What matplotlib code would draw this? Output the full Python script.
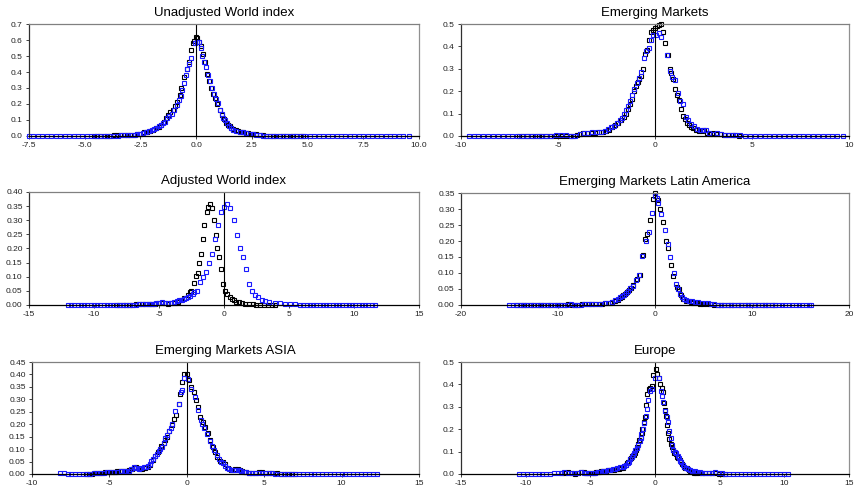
import numpy as np
import matplotlib
matplotlib.use('Agg')
import matplotlib.pyplot as plt
from matplotlib.ticker import FormatStrFormatter

plt.rcParams['font.family'] = ['Liberation Sans', 'DejaVu Sans']
plt.rcParams['axes.unicode_minus'] = False

# density points, (x, y) pairs
# black = empirical, blue = fitted
uw_black = [(-4.6,0),(-4.45,0),(-4.3,0),(-4.15,0),(-4.0,0),(-3.85,0.002),(-3.7,0.004),(-3.55,0.006),(-3.4,0.008),
            (-3.25,0.009),(-3.1,0.009),(-2.95,0.007),(-2.8,0.006),(-2.65,0.01),(-2.5,0.015),(-2.35,0.022),(-2.2,0.028),
            (-2.05,0.033),(-1.93,0.04),(-1.78,0.05),(-1.65,0.058),(-1.56,0.07),(-1.44,0.09),(-1.36,0.11),(-1.25,0.13),
            (-1.15,0.15),(-1.03,0.165),(-0.93,0.19),(-0.84,0.215),(-0.73,0.255),(-0.66,0.30),(-0.54,0.37),(-0.43,0.42),
            (-0.34,0.465),(-0.24,0.535),(-0.16,0.58),(-0.08,0.595),(0.0,0.62),(0.06,0.61),(0.13,0.585),(0.21,0.56),
            (0.31,0.51),(0.39,0.46),(0.49,0.39),(0.58,0.345),(0.69,0.30),(0.76,0.265),(0.84,0.24),(0.95,0.2),(1.06,0.16),
            (1.18,0.13),(1.26,0.105),(1.33,0.08),(1.42,0.07),(1.51,0.06),(1.58,0.052),(1.66,0.045),(1.78,0.038),
            (1.89,0.033),(2.0,0.027),(2.1,0.023),(2.22,0.019),(2.34,0.016),(2.45,0.014),(2.56,0.012),(2.7,0.01),
            (2.85,0.008),(3.0,0.005),(3.15,0.003),(3.3,0.002),(3.45,0.001),(3.6,0),(3.75,0),(3.9,0),(4.05,0),(4.2,0),
            (4.35,0),(4.5,0),(4.65,0),(4.8,0)]
uw_blue = [(-7.5,0),(-7.3,0),(-7.1,0),(-6.9,0),(-6.7,0),(-6.5,0),(-6.3,0),(-6.1,0),(-5.9,0),(-5.7,0),(-5.5,0),(-5.3,0),
           (-5.1,0),(-4.9,0),(-4.7,0),(-4.5,0),(-4.3,0),(-4.1,0),(-3.9,0),(-3.7,0),(-3.5,0.002),(-3.35,0.005),
           (-3.2,0.007),(-3.05,0.008),(-2.9,0.006),(-2.75,0.008),(-2.65,0.01),(-2.53,0.013),(-2.38,0.018),(-2.23,0.025),
           (-2.1,0.03),(-2.0,0.035),(-1.88,0.043),(-1.78,0.05),(-1.68,0.06),(-1.59,0.07),(-1.5,0.08),(-1.41,0.09),
           (-1.3,0.11),(-1.2,0.125),(-1.08,0.14),(-0.98,0.165),(-0.88,0.195),(-0.79,0.225),(-0.7,0.25),(-0.62,0.29),
           (-0.55,0.33),(-0.45,0.38),(-0.39,0.42),(-0.3,0.45),(-0.21,0.49),(-0.06,0.58),(0.05,0.59),(0.12,0.59),
           (0.2,0.55),(0.28,0.50),(0.37,0.46),(0.46,0.43),(0.54,0.38),(0.61,0.345),(0.7,0.3),(0.79,0.26),(0.89,0.23),
           (0.99,0.205),(1.07,0.16),(1.14,0.135),(1.22,0.115),(1.29,0.10),(1.38,0.08),(1.48,0.065),(1.57,0.05),
           (1.66,0.04),(1.8,0.033),(1.96,0.027),(2.1,0.022),(2.26,0.017),(2.4,0.013),(2.56,0.01),(2.7,0.008),
           (2.85,0.005),(3.0,0.003),(3.15,0.002),(3.3,0),(3.5,0),(3.7,0),(3.9,0),(4.1,0),(4.3,0),(4.5,0),(4.7,0),
           (4.9,0),(5.1,0),(5.3,0),(5.5,0),(5.7,0),(5.9,0),(6.1,0),(6.3,0),(6.5,0),(6.7,0),(6.9,0),(7.1,0),(7.3,0),
           (7.5,0),(7.7,0),(7.9,0),(8.1,0),(8.3,0),(8.5,0),(8.7,0),(8.9,0),(9.1,0),(9.3,0),(9.55,0)]

em_black = [(-7.0,0),(-6.8,0),(-6.6,0),(-6.4,0),(-6.2,0),(-6.0,0),(-5.8,0),(-5.6,0.001),(-5.4,0.002),(-5.2,0.002),
            (-5.0,0.002),(-4.8,0.002),(-4.6,0.001),(-4.4,0.001),(-4.2,0.001),(-4.0,0.003),(-3.85,0.008),(-3.7,0.012),
            (-3.5,0.015),(-3.3,0.013),(-3.1,0.015),(-2.9,0.017),(-2.7,0.02),(-2.5,0.021),(-2.35,0.028),(-2.2,0.04),
            (-2.05,0.05),(-1.9,0.058),(-1.75,0.07),(-1.6,0.085),(-1.5,0.1),(-1.4,0.12),(-1.3,0.145),(-1.2,0.165),
            (-1.1,0.2),(-1.0,0.225),(-0.9,0.24),(-0.8,0.255),(-0.7,0.27),(-0.6,0.3),(-0.5,0.365),(-0.4,0.385),
            (-0.3,0.43),(-0.2,0.465),(-0.1,0.475),(0.0,0.48),(0.1,0.49),(0.2,0.495),(0.3,0.5),(0.4,0.465),(0.5,0.415),
            (0.65,0.36),(0.75,0.3),(0.85,0.28),(0.95,0.255),(1.05,0.21),(1.15,0.185),(1.25,0.16),(1.35,0.12),
            (1.45,0.09),(1.55,0.075),(1.65,0.06),(1.75,0.05),(1.85,0.04),(1.95,0.035),(2.1,0.027),(2.25,0.022),
            (2.4,0.022),(2.55,0.026),(2.7,0.015),(2.85,0.01),(3.0,0.012),(3.15,0.01),(3.35,0.007),(3.55,0.004),
            (3.75,0.003),(3.95,0.003),(4.15,0.005),(4.35,0.002)]
em_blue = [(-9.6,0),(-9.35,0),(-9.1,0),(-8.85,0),(-8.6,0),(-8.35,0),(-8.1,0),(-7.85,0),(-7.6,0),(-7.35,0),(-7.1,0),
           (-6.85,0),(-6.6,0),(-6.35,0),(-6.1,0),(-5.85,0),(-5.6,0),(-5.35,0),(-5.1,0.003),(-4.85,0.004),(-4.6,0.003),
           (-4.35,0.002),(-4.1,0.002),(-3.85,0.008),(-3.65,0.013),(-3.45,0.015),(-3.25,0.016),(-3.0,0.018),(-2.8,0.02),
           (-2.6,0.022),(-2.4,0.03),(-2.25,0.04),(-2.1,0.045),(-1.95,0.06),(-1.8,0.07),(-1.7,0.08),(-1.6,0.1),
           (-1.5,0.115),(-1.4,0.135),(-1.3,0.155),(-1.2,0.185),(-1.1,0.21),(-0.95,0.235),(-0.8,0.26),(-0.7,0.285),
           (-0.55,0.35),(-0.45,0.38),(-0.32,0.395),(-0.2,0.43),(-0.1,0.45),(0.05,0.45),(0.2,0.46),(0.33,0.44),
           (0.6,0.36),(0.8,0.29),(0.9,0.265),(1.05,0.25),(1.2,0.19),(1.3,0.155),(1.45,0.145),(1.6,0.085),(1.72,0.07),
           (1.85,0.055),(2.0,0.045),(2.15,0.03),(2.3,0.025),(2.5,0.025),(2.65,0.028),(2.8,0.015),(3.0,0.01),
           (3.2,0.012),(3.4,0.008),(3.6,0.005),(3.8,0.004),(4.0,0.004),(4.2,0.006),(4.4,0.003),(4.65,0),(4.9,0),
           (5.15,0),(5.4,0),(5.65,0),(5.9,0),(6.15,0),(6.4,0),(6.65,0),(6.9,0),(7.15,0),(7.4,0),(7.65,0),(7.9,0),
           (8.15,0),(8.4,0),(8.65,0),(8.9,0),(9.15,0),(9.4,0),(9.7,0)]

aw_black = [(-8.3,0),(-8.05,0),(-7.8,0),(-7.55,0),(-7.3,0),(-7.05,0.001),(-6.8,0.003),(-6.55,0.003),(-6.3,0.002),
            (-6.05,0.002),(-5.8,0.003),(-5.55,0.004),(-5.3,0.004),(-5.05,0.006),(-4.8,0.007),(-4.55,0.006),
            (-4.3,0.005),(-4.05,0.006),(-3.8,0.008),(-3.56,0.012),(-3.3,0.017),(-3.04,0.025),(-2.8,0.035),
            (-2.65,0.045),(-2.5,0.05),(-2.32,0.078),(-2.14,0.104),(-2.01,0.113),(-1.91,0.148),(-1.75,0.18),
            (-1.62,0.235),(-1.5,0.284),(-1.34,0.33),(-1.24,0.347),(-1.1,0.359),(-0.93,0.343),(-0.77,0.302),
            (-0.64,0.249),(-0.52,0.2),(-0.36,0.17),(-0.23,0.127),(-0.05,0.075),(0.1,0.05),(0.26,0.039),(0.44,0.03),
            (0.6,0.022),(0.78,0.016),(0.95,0.012),(1.15,0.009),(1.4,0.006),(1.65,0.004),(1.9,0.003),(2.2,0.002),
            (2.5,0.001),(2.8,0),(3.1,0),(3.4,0),(3.7,0),(3.95,0)]
aw_blue = [(-12.0,0),(-11.75,0),(-11.5,0),(-11.25,0),(-11.0,0),(-10.75,0),(-10.5,0),(-10.25,0),(-10.0,0),(-9.75,0),
           (-9.5,0),(-9.25,0),(-9.0,0),(-8.75,0),(-8.5,0),(-8.25,0),(-8.0,0),(-7.75,0),(-7.5,0),(-7.25,0),(-7.0,0),
           (-6.75,0.001),(-6.5,0.002),(-6.25,0.002),(-6.0,0.002),(-5.8,0.003),(-5.6,0.005),(-5.4,0.005),(-5.2,0.006),
           (-5.0,0.008),(-4.8,0.01),(-4.55,0.007),(-4.3,0.006),(-4.05,0.008),(-3.82,0.01),(-3.6,0.013),(-3.43,0.016),
           (-3.25,0.019),(-3.1,0.022),(-2.92,0.025),(-2.75,0.028),(-2.58,0.033),(-2.42,0.038),(-2.27,0.045),
           (-2.11,0.05),(-1.88,0.08),(-1.65,0.1),(-1.42,0.115),(-1.18,0.147),(-0.95,0.18),(-0.67,0.235),(-0.46,0.284),
           (-0.26,0.329),(0.0,0.346),(0.26,0.357),(0.49,0.343),(0.75,0.302),(0.98,0.249),(1.21,0.2),(1.47,0.17),
           (1.67,0.129),(1.93,0.075),(2.17,0.05),(2.37,0.037),(2.6,0.027),(2.89,0.019),(3.14,0.013),(3.5,0.01),
           (3.9,0.008),(4.3,0.006),(4.7,0.004),(5.1,0.003),(5.5,0.002),(5.85,0),(6.1,0),(6.35,0),(6.6,0),(6.85,0),
           (7.1,0),(7.35,0),(7.6,0),(7.85,0),(8.1,0),(8.35,0),(8.6,0),(8.85,0),(9.1,0),(9.35,0),(9.6,0),(9.85,0),
           (10.1,0),(10.35,0),(10.6,0),(10.85,0),(11.1,0),(11.35,0),(11.65,0)]

la_black = [(-14.2,0),(-13.85,0),(-13.5,0),(-13.15,0),(-12.8,0),(-12.45,0),(-12.1,0),(-11.75,0),(-11.4,0),(-11.05,0),
            (-10.7,0),(-10.35,0),(-10.0,0),(-9.65,0),(-9.3,0.001),(-8.95,0.002),(-8.6,0.001),(-8.25,0.001),(-7.9,0.001),
            (-7.55,0.002),(-7.2,0.002),(-6.85,0.003),(-6.5,0.003),(-6.15,0.004),(-5.8,0.004),(-5.45,0.004),
            (-5.1,0.005),(-4.66,0.006),(-4.4,0.008),(-4.1,0.011),(-3.85,0.016),(-3.62,0.022),(-3.45,0.026),
            (-3.28,0.03),(-3.1,0.034),(-2.93,0.04),(-2.72,0.046),(-2.52,0.052),(-2.24,0.063),(-1.9,0.081),
            (-1.55,0.095),(-1.28,0.155),(-1.03,0.205),(-0.86,0.223),(-0.52,0.267),(-0.24,0.33),(0.03,0.35),
            (0.34,0.327),(0.52,0.30),(0.8,0.26),(1.1,0.2),(1.34,0.177),(1.62,0.125),(1.9,0.09),(2.24,0.056),
            (2.52,0.049),(2.7,0.03),(2.93,0.02),(3.2,0.014),(3.45,0.011),(3.7,0.008),(3.96,0.006),(4.3,0.005),
            (4.65,0.004),(5.0,0.004),(5.35,0.003),(5.7,0.003),(6.1,0.001),(6.45,0),(6.8,0),(7.15,0),(7.5,0),
            (7.85,0),(8.2,0),(8.55,0),(8.9,0),(9.25,0),(9.6,0),(9.95,0),(10.3,0),(10.65,0),(11.0,0),(11.35,0),
            (11.7,0),(12.05,0),(12.4,0)]
la_blue = [(-15.0,0),(-14.65,0),(-14.3,0),(-13.95,0),(-13.6,0),(-13.25,0),(-12.9,0),(-12.55,0),(-12.2,0),(-11.85,0),
           (-11.5,0),(-11.15,0),(-10.8,0),(-10.45,0),(-10.1,0),(-9.75,0),(-9.4,0),(-9.05,0.001),(-8.7,0.002),
           (-8.35,0.001),(-8.0,0.001),(-7.65,0.001),(-7.3,0.002),(-6.95,0.002),(-6.6,0.002),(-6.2,0.003),
           (-5.7,0.003),(-5.17,0.006),(-4.8,0.007),(-4.48,0.008),(-4.07,0.017),(-3.85,0.02),(-3.62,0.024),
           (-3.4,0.028),(-3.17,0.032),(-2.95,0.038),(-2.76,0.043),(-2.55,0.052),(-2.31,0.06),(-1.97,0.077),
           (-1.66,0.093),(-1.31,0.154),(-0.97,0.2),(-0.62,0.227),(-0.34,0.287),(-0.03,0.34),(0.17,0.334),
           (0.3,0.319),(0.62,0.285),(1.0,0.235),(1.3,0.19),(1.55,0.151),(1.97,0.1),(2.17,0.065),(2.35,0.05),
           (2.59,0.035),(2.79,0.025),(3.0,0.02),(3.2,0.017),(3.5,0.013),(3.8,0.011),(4.15,0.009),(4.48,0.008),
           (4.85,0.007),(5.17,0.006),(5.5,0.005),(5.8,0.004),(6.1,0.002),(6.45,0),(6.8,0),(7.15,0),(7.5,0),(7.85,0),
           (8.2,0),(8.55,0),(8.9,0),(9.25,0),(9.6,0),(9.95,0),(10.3,0),(10.65,0),(11.0,0),(11.35,0),(11.7,0),
           (12.05,0),(12.4,0),(12.75,0),(13.1,0),(13.45,0),(13.8,0),(14.15,0),(14.5,0),(14.85,0),(15.2,0),
           (15.55,0),(15.85,0),(16.1,0)]

as_black = [(-6.5,0.001),(-6.3,0.001),(-6.1,0.001),(-5.9,0.003),(-5.69,0.004),(-5.48,0.005),(-5.26,0.007),
            (-5.05,0.008),(-4.83,0.009),(-4.65,0.01),(-4.5,0.012),(-4.34,0.012),(-4.18,0.012),(-4.02,0.012),
            (-3.86,0.013),(-3.7,0.016),(-3.53,0.02),(-3.4,0.024),(-3.3,0.027),(-3.15,0.023),(-3.0,0.02),(-2.89,0.02),
            (-2.7,0.025),(-2.5,0.029),(-2.35,0.036),(-2.2,0.056),(-2.03,0.073),(-1.85,0.089),(-1.66,0.112),
            (-1.49,0.123),(-1.38,0.135),(-1.27,0.15),(-1.12,0.172),(-0.95,0.196),(-0.82,0.22),(-0.69,0.239),
            (-0.52,0.28),(-0.41,0.323),(-0.3,0.37),(-0.15,0.403),(0.02,0.4),(0.13,0.377),(0.3,0.35),(0.45,0.33),
            (0.6,0.296),(0.73,0.27),(0.88,0.23),(1.03,0.21),(1.2,0.19),(1.38,0.163),(1.53,0.136),(1.68,0.109),
            (1.81,0.089),(1.96,0.069),(2.13,0.052),(2.33,0.047),(2.5,0.039),(2.67,0.025),(2.87,0.016),(3.1,0.019),
            (3.32,0.02),(3.45,0.016),(3.58,0.012),(3.84,0.007),(4.05,0.005),(4.22,0.004),(4.45,0.005),(4.66,0.007),
            (4.87,0.006),(5.09,0.005),(5.3,0.005),(5.52,0.004),(5.8,0.002),(6.06,0.001),(6.33,0.001),(6.6,0.001),
            (6.8,0),(7.0,0)]
as_blue = [(-8.17,0.002),(-7.95,0.002),(-7.7,0.001),(-7.45,0.001),(-7.2,0.001),(-6.95,0.001),(-6.7,0.001),
           (-6.45,0.001),(-6.23,0.001),(-6.0,0.002),(-5.8,0.003),(-5.58,0.004),(-5.37,0.005),(-5.15,0.006),
           (-4.94,0.007),(-4.72,0.008),(-4.5,0.009),(-4.28,0.011),(-4.07,0.012),(-3.9,0.012),(-3.75,0.013),
           (-3.6,0.02),(-3.43,0.027),(-3.25,0.026),(-3.1,0.022),(-2.95,0.024),(-2.78,0.027),(-2.64,0.03),
           (-2.5,0.033),(-2.4,0.04),(-2.28,0.052),(-2.18,0.06),(-2.07,0.072),(-1.95,0.082),(-1.81,0.092),
           (-1.7,0.1),(-1.6,0.109),(-1.5,0.125),(-1.38,0.143),(-1.27,0.155),(-1.16,0.172),(-1.05,0.185),
           (-0.95,0.2),(-0.73,0.254),(-0.52,0.283),(-0.4,0.33),(-0.3,0.336),(-0.17,0.386),(0.09,0.383),
           (0.28,0.343),(0.52,0.31),(0.73,0.256),(0.91,0.216),(1.0,0.2),(1.1,0.183),(1.31,0.159),(1.53,0.132),
           (1.65,0.112),(1.75,0.096),(1.96,0.076),(2.07,0.06),(2.18,0.049),(2.32,0.045),(2.46,0.033),(2.6,0.026),
           (2.72,0.02),(2.9,0.017),(3.04,0.016),(3.2,0.018),(3.36,0.017),(3.5,0.014),(3.68,0.009),(3.84,0.006),
           (4.0,0.004),(4.2,0.004),(4.43,0.004),(4.65,0.005),(4.87,0.004),(5.08,0.004),(5.3,0.003),(5.52,0.002),
           (5.73,0.001),(6.0,0),(6.25,0),(6.5,0),(6.75,0),(7.0,0),(7.25,0),(7.5,0),(7.75,0),(8.0,0),(8.25,0),
           (8.5,0),(8.75,0),(9.0,0),(9.25,0),(9.5,0),(9.75,0),(10.0,0),(10.25,0),(10.5,0),(10.75,0),(11.0,0),
           (11.25,0),(11.5,0),(11.75,0),(12.0,0),(12.3,0)]

eu_black = [(-7.2,0.004),(-6.95,0.006),(-6.7,0.007),(-6.45,0.005),(-6.2,0.002),(-5.95,0.004),(-5.72,0.009),
            (-5.5,0.007),(-5.33,0.006),(-5.15,0.005),(-4.95,0.004),(-4.75,0.006),(-4.56,0.009),(-4.37,0.011),
            (-4.18,0.013),(-4.0,0.013),(-3.79,0.013),(-3.6,0.016),(-3.41,0.018),(-3.2,0.02),(-3.03,0.022),
            (-2.9,0.023),(-2.77,0.024),(-2.64,0.026),(-2.51,0.028),(-2.38,0.034),(-2.26,0.04),(-2.15,0.048),
            (-2.05,0.055),(-1.96,0.065),(-1.87,0.073),(-1.75,0.08),(-1.62,0.085),(-1.53,0.095),(-1.44,0.107),
            (-1.36,0.12),(-1.28,0.136),(-1.2,0.15),(-1.1,0.166),(-1.03,0.185),(-0.97,0.203),(-0.87,0.23),
            (-0.77,0.255),(-0.67,0.307),(-0.59,0.359),(-0.46,0.381),(-0.36,0.385),(-0.26,0.393),(-0.15,0.44),
            (0.05,0.47),(0.18,0.448),(0.28,0.43),(0.36,0.404),(0.51,0.384),(0.62,0.366),(0.69,0.315),(0.78,0.285),
            (0.87,0.26),(0.95,0.22),(1.03,0.181),(1.12,0.155),(1.21,0.132),(1.3,0.12),(1.38,0.107),(1.48,0.095),
            (1.59,0.088),(1.72,0.077),(1.81,0.07),(1.9,0.062),(2.0,0.052),(2.1,0.043),(2.23,0.033),(2.36,0.028),
            (2.49,0.025),(2.62,0.018),(2.74,0.013),(2.87,0.009),(3.0,0.006),(3.2,0.006),(3.4,0.005),(3.64,0.004),
            (3.9,0.004),(4.15,0.004),(4.41,0.004),(4.67,0.003),(4.92,0.002),(5.18,0.001),(5.45,0)]
eu_blue = [(-10.5,0),(-10.2,0),(-9.9,0),(-9.6,0),(-9.3,0),(-9.0,0),(-8.7,0),(-8.4,0.001),(-8.1,0.002),
           (-7.8,0.003),(-7.5,0.004),(-7.25,0.006),(-7.0,0.007),(-6.75,0.006),(-6.5,0.004),(-6.25,0.003),
           (-6.0,0.003),(-5.72,0.007),(-5.5,0.006),(-5.33,0.004),(-5.1,0.003),(-4.82,0.003),(-4.62,0.005),
           (-4.44,0.007),(-4.25,0.01),(-4.05,0.012),(-3.86,0.014),(-3.67,0.016),(-3.47,0.018),(-3.28,0.021),
           (-3.1,0.023),(-2.9,0.025),(-2.7,0.029),(-2.51,0.033),(-2.38,0.036),(-2.26,0.04),(-2.12,0.048),
           (-2.0,0.055),(-1.9,0.068),(-1.79,0.077),(-1.7,0.085),(-1.62,0.092),(-1.52,0.105),(-1.41,0.117),
           (-1.3,0.13),(-1.18,0.147),(-1.1,0.16),(-1.05,0.177),(-0.95,0.2),(-0.85,0.226),(-0.72,0.26),
           (-0.59,0.292),(-0.5,0.33),(-0.38,0.37),(-0.26,0.378),(0.0,0.43),(0.31,0.43),(0.46,0.37),(0.56,0.349),
           (0.66,0.32),(0.77,0.282),(0.9,0.255),(1.03,0.23),(1.12,0.19),(1.21,0.162),(1.31,0.13),(1.41,0.107),
           (1.52,0.1),(1.64,0.092),(1.75,0.08),(1.85,0.07),(1.94,0.06),(2.03,0.052),(2.15,0.04),(2.26,0.033),
           (2.4,0.028),(2.56,0.022),(2.72,0.018),(2.87,0.015),(3.06,0.012),(3.26,0.01),(3.45,0.008),(3.64,0.006),
           (3.9,0.005),(4.15,0.004),(4.4,0.005),(4.67,0.007),(4.92,0.005),(5.18,0.003),(5.45,0.001),(5.75,0),
           (6.05,0),(6.35,0),(6.65,0),(6.95,0),(7.25,0),(7.55,0),(7.85,0),(8.15,0),(8.45,0),(8.75,0),(9.05,0),
           (9.35,0),(9.65,0),(9.95,0),(10.25,0)]

titles = ['Unadjusted World index', 'Emerging Markets', 'Adjusted World index',
          'Emerging Markets Latin America', 'Emerging Markets ASIA', 'Europe']
series = [(uw_black, uw_blue), (em_black, em_blue), (aw_black, aw_blue),
          (la_black, la_blue), (as_black, as_blue), (eu_black, eu_blue)]
xlims = [(-7.5, 10), (-10, 10), (-15, 15), (-20, 20), (-10, 15), (-15, 15)]
xticks = [[-7.5, -5.0, -2.5, 0.0, 2.5, 5.0, 7.5, 10.0], [-10, -5, 0, 5, 10],
          [-15, -10, -5, 0, 5, 10, 15], [-20, -10, 0, 10, 20],
          [-10, -5, 0, 5, 10, 15], [-15, -10, -5, 0, 5, 10, 15]]
ylims = [0.7, 0.5, 0.40, 0.35, 0.45, 0.5]
ysteps = [0.1, 0.1, 0.05, 0.05, 0.05, 0.1]
xfmt = ['%.1f', '%d', '%d', '%d', '%d', '%d']
yfmt = ['%.1f', '%.1f', '%.2f', '%.2f', '%.2f', '%.1f']

rects = [[0.0338, 0.7236, 0.4551, 0.2276], [0.5379, 0.7236, 0.4527, 0.2276],
         [0.0338, 0.3801, 0.4551, 0.2297], [0.5379, 0.3801, 0.4527, 0.2276],
         [0.0373, 0.0366, 0.4516, 0.2276], [0.5379, 0.0366, 0.4527, 0.2276]]

fig = plt.figure(figsize=(8.57, 4.92), dpi=100)

for i in range(6):
    ax = fig.add_axes(rects[i])
    blk = np.array(series[i][0]).T
    blu = np.array(series[i][1]).T
    ax.plot(blk[0], blk[1], ls='none', marker='s', ms=3.2, mfc='none', mec='black', mew=0.8, clip_on=False)
    ax.plot(blu[0], blu[1], ls='none', marker='s', ms=3.2, mfc='none', mec='#1a1aff', mew=0.8, clip_on=False)
    ax.axvline(0, color='black', lw=0.8)
    ax.set_xlim(*xlims[i])
    ax.set_ylim(0, ylims[i])
    ax.set_xticks(xticks[i])
    ax.set_yticks(np.arange(0, ylims[i] + 1e-9, ysteps[i]))
    ax.xaxis.set_major_formatter(FormatStrFormatter(xfmt[i]))
    ax.yaxis.set_major_formatter(FormatStrFormatter(yfmt[i]))
    ax.tick_params(labelsize=6, length=2.5, width=0.6, pad=2, colors='#222222')
    ax.spines['top'].set_color('#808080')
    ax.spines['right'].set_color('#909090')
    ax.spines['left'].set_color('#303030')
    ax.spines['bottom'].set_color('black')
    for s in ax.spines.values():
        s.set_linewidth(0.9)
    ax.set_title(titles[i], fontsize=9.5, pad=6)

fig.savefig('out.png', dpi=100)
